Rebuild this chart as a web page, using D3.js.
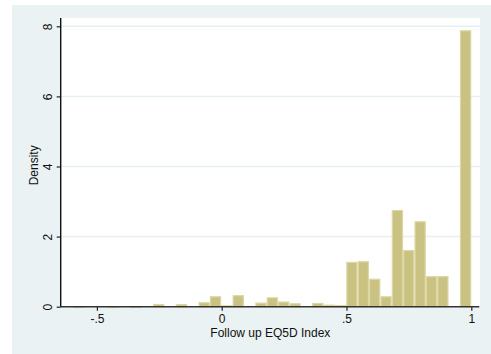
<!DOCTYPE html>
<html>
<head>
<meta charset="utf-8">
<script src="https://cdn.jsdelivr.net/npm/d3@7"></script>
<style>
  html, body { margin: 0; padding: 0; background: #ffffff; }
  svg { display: block; font-family: "Liberation Sans", Arial, sans-serif; }
</style>
</head>
<body>
<svg id="chart" width="491" height="354"></svg>
<script>
// Histogram of follow-up EQ5D index: 35 equal-width bins from the minimum (-0.594) to 1
const binStart = -0.594;
const binEnd = 1;
const densities = [
  0.015, 0, 0, 0.015, 0, 0.015, 0, 0.08, 0, 0.075,
  0, 0.13, 0.30, 0.04, 0.33, 0, 0.12, 0.27, 0.15, 0.10,
  0, 0.11, 0.06, 0.05, 1.28, 1.30, 0.80, 0.30, 2.76, 1.62,
  2.44, 0.875, 0.875, 0, 7.89
];
const xTicks = [-0.5, 0, 0.5, 1];
const xTickLabels = ["-.5", "0", ".5", "1"];
const yTicks = [0, 2, 4, 6, 8];
const xTitle = "Follow up EQ5D Index";
const yTitle = "Density";

const binWidth = (binEnd - binStart) / densities.length;
const bins = densities.map((d, i) => ({
  x0: binStart + i * binWidth,
  x1: binStart + (i + 1) * binWidth,
  density: d
}));

const svg = d3.select("#chart");

// Plot region bounds
const plotLeft = 60.7, plotRight = 480, plotTop = 18, plotBottom = 306.7;

const x = d3.scaleLinear().domain([-0.5, 1]).range([96.9, 471.3]);
const y = d3.scaleLinear().domain([0, 8]).range([306.7, 26.3]);

// Outer graph background
svg.append("rect")
  .attr("x", 12).attr("y", 5)
  .attr("width", 491 - 12).attr("height", 354 - 5)
  .attr("fill", "#eaf2f3");

// Plot region
svg.append("rect")
  .attr("x", plotLeft).attr("y", plotTop)
  .attr("width", plotRight - plotLeft).attr("height", plotBottom - plotTop)
  .attr("fill", "#ffffff");

// Horizontal grid lines
svg.append("g")
  .selectAll("line")
  .data(yTicks.filter(t => t > 0))
  .join("line")
  .attr("x1", plotLeft).attr("x2", plotRight)
  .attr("y1", d => y(d)).attr("y2", d => y(d))
  .attr("stroke", "#e6eff1")
  .attr("stroke-width", 1.5);

// Bars
svg.append("g")
  .selectAll("rect")
  .data(bins.filter(b => b.density > 0))
  .join("rect")
  .attr("x", d => x(d.x0) + 0.6)
  .attr("width", d => x(d.x1) - x(d.x0) - 1.2)
  .attr("y", d => y(d.density) + 0.6)
  .attr("height", d => Math.max(0.5, y(0) - y(d.density) - 0.6))
  .attr("fill", "#cac282")
  .attr("stroke", "#ddd7a3")
  .attr("stroke-width", 1.2);

// X axis
const xAxis = d3.axisBottom(x)
  .tickValues(xTicks)
  .tickFormat((d, i) => xTickLabels[i])
  .tickSize(4)
  .tickPadding(4)
  .tickSizeOuter(0);

const gx = svg.append("g")
  .attr("transform", `translate(0,${plotBottom})`)
  .call(xAxis);
gx.select(".domain").remove();
gx.append("line")
  .attr("x1", plotLeft).attr("x2", plotRight - 0.7)
  .attr("y1", 0).attr("y2", 0)
  .attr("stroke", "#333333").attr("stroke-width", 1.4);
gx.selectAll(".tick line").attr("stroke", "#222222").attr("stroke-width", 1.2);
gx.selectAll(".tick text")
  .attr("fill", "#111111")
  .style("font-size", "12px")
  .style("font-family", "'Liberation Sans', Arial, sans-serif");

// Y axis
const yAxis = d3.axisLeft(y)
  .tickValues(yTicks)
  .tickFormat(d3.format("d"))
  .tickSize(4)
  .tickPadding(4)
  .tickSizeOuter(0);

const gy = svg.append("g")
  .attr("transform", `translate(${plotLeft},0)`)
  .call(yAxis);
gy.select(".domain").remove();
gy.append("line")
  .attr("x1", 0).attr("x2", 0)
  .attr("y1", plotTop).attr("y2", plotBottom)
  .attr("stroke", "#111111").attr("stroke-width", 1.4);
gy.selectAll(".tick line").attr("stroke", "#222222").attr("stroke-width", 1.2);
gy.selectAll(".tick text")
  .attr("fill", "#111111")
  .attr("x", null).attr("dy", null)
  .attr("text-anchor", "middle")
  .attr("transform", "translate(-12.5,0) rotate(-90)")
  .attr("dy", "0.35em")
  .style("font-size", "12px")
  .style("font-family", "'Liberation Sans', Arial, sans-serif");

// Axis titles
svg.append("text")
  .attr("x", (plotLeft + plotRight) / 2)
  .attr("y", 336.5)
  .attr("text-anchor", "middle")
  .attr("fill", "#111111")
  .style("font-size", "12px")
  .text(xTitle);

svg.append("text")
  .attr("transform", `translate(37.5,${(plotTop + plotBottom) / 2 + 3}) rotate(-90)`)
  .attr("text-anchor", "middle")
  .attr("fill", "#111111")
  .style("font-size", "12px")
  .text(yTitle);
</script>
</body>
</html>
